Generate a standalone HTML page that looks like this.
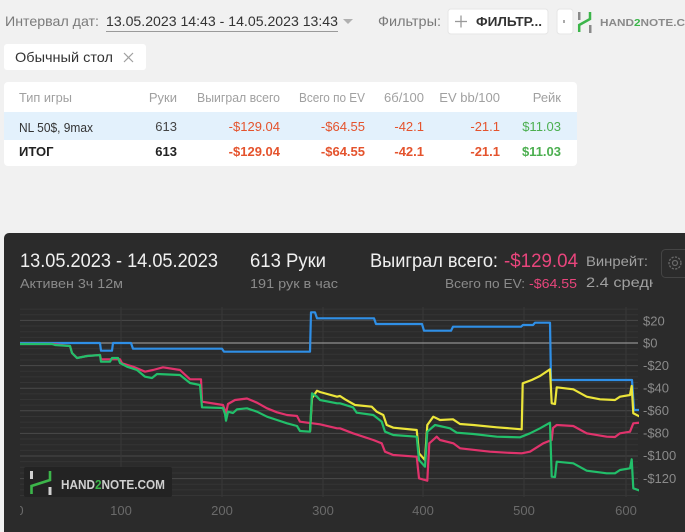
<!DOCTYPE html>
<html><head><meta charset="utf-8"><style>
html,body{margin:0;padding:0;background:#f1f1f1;width:685px;height:532px;overflow:hidden}
svg{display:block}
svg, svg text, svg tspan{font-family:"Liberation Sans","DejaVu Sans","Noto Sans CJK SC",sans-serif !important}
</style></head><body>
<svg width="685" height="532" viewBox="0 0 685 532" xmlns="http://www.w3.org/2000/svg" font-family="Liberation Sans, DejaVu Sans, sans-serif">
<rect x="0" y="0" width="685" height="532" fill="#f1f1f1"/>
<!-- top bar -->
<text x="5" y="26" font-size="14" fill="#7a7a7a" textLength="94" lengthAdjust="spacingAndGlyphs">Интервал дат:</text>
<text x="106" y="26" font-size="14" fill="#333" textLength="232" lengthAdjust="spacingAndGlyphs">13.05.2023 14:43 - 14.05.2023 13:43</text>
<line x1="106" y1="31.5" x2="338" y2="31.5" stroke="#9a9a9a" stroke-width="1"/>
<polygon points="343,19 353,19 348,24" fill="#b0b0b0"/>
<text x="378" y="26" font-size="14" fill="#7a7a7a" textLength="63" lengthAdjust="spacingAndGlyphs">Фильтры:</text>
<rect x="448" y="9" width="100" height="25" rx="3" fill="#fff" stroke="#e6e6e6"/>
<line x1="455" y1="21.5" x2="467" y2="21.5" stroke="#999" stroke-width="1.3"/>
<line x1="461" y1="15.5" x2="461" y2="27.5" stroke="#999" stroke-width="1.3"/>
<text x="476" y="26" font-size="13" font-weight="bold" fill="#333" textLength="66" lengthAdjust="spacingAndGlyphs">ФИЛЬТР...</text>
<rect x="557" y="9" width="16" height="25" rx="3" fill="#fff" stroke="#e6e6e6"/>
<rect x="563" y="20" width="2" height="3" fill="#aaa"/>
<rect x="578" y="12" width="2.5" height="8" fill="#8a8a8a"/>
<path d="M579.2,32 V25 L590,19 V12" fill="none" stroke="#3cb54a" stroke-width="2.5"/>
<rect x="589" y="25" width="2.5" height="8" fill="#8a8a8a"/>
<text x="600" y="26" font-size="10" font-weight="bold" fill="#8a8a8a" textLength="85" lengthAdjust="spacingAndGlyphs">HAND<tspan fill="#3cb54a">2</tspan>NOTE.C</text>
<!-- chip -->
<rect x="4" y="44" width="142" height="26" rx="3" fill="#fff"/>
<text x="15" y="62" font-size="14" fill="#333" textLength="98" lengthAdjust="spacingAndGlyphs">Обычный стол</text>
<line x1="124" y1="53" x2="133" y2="62" stroke="#a0a0a0" stroke-width="1.2"/>
<line x1="133" y1="53" x2="124" y2="62" stroke="#a0a0a0" stroke-width="1.2"/>
<!-- card -->
<rect x="4" y="82" width="573" height="84" rx="4" fill="#fff"/>
<g font-size="13" fill="#a0a0a0">
<text x="19" y="102" textLength="53" lengthAdjust="spacingAndGlyphs">Тип игры</text>
<text x="177" y="102" text-anchor="end">Руки</text>
<text x="280" y="102" text-anchor="end" textLength="83" lengthAdjust="spacingAndGlyphs">Выиграл всего</text>
<text x="365" y="102" text-anchor="end" textLength="66" lengthAdjust="spacingAndGlyphs">Всего по EV</text>
<text x="424" y="102" text-anchor="end">6б/100</text>
<text x="500" y="102" text-anchor="end">EV bb/100</text>
<text x="561" y="102" text-anchor="end">Рейк</text>
</g>
<rect x="4" y="112" width="573" height="28" fill="#e3f1fc"/>
<g font-size="13">
<text x="19" y="132" fill="#333" textLength="74" lengthAdjust="spacingAndGlyphs">NL 50$, 9max</text>
<text x="177" y="131" fill="#444" text-anchor="end">613</text>
<text x="280" y="131" fill="#e4532d" text-anchor="end">-$129.04</text>
<text x="365" y="131" fill="#e4532d" text-anchor="end">-$64.55</text>
<text x="424" y="131" fill="#e4532d" text-anchor="end">-42.1</text>
<text x="500" y="131" fill="#e4532d" text-anchor="end">-21.1</text>
<text x="561" y="131" fill="#4caf50" text-anchor="end">$11.03</text>
</g>
<g font-size="13" font-weight="bold">
<text x="19" y="156" fill="#222">ИТОГ</text>
<text x="177" y="156" fill="#222" text-anchor="end">613</text>
<text x="280" y="156" fill="#e4532d" text-anchor="end">-$129.04</text>
<text x="365" y="156" fill="#e4532d" text-anchor="end">-$64.55</text>
<text x="424" y="156" fill="#e4532d" text-anchor="end">-42.1</text>
<text x="500" y="156" fill="#e4532d" text-anchor="end">-21.1</text>
<text x="561" y="156" fill="#4caf50" text-anchor="end">$11.03</text>
</g>
<!-- chart panel -->
<rect x="4" y="233" width="720" height="320" rx="5" fill="#2b2b2b"/>
<text x="20" y="267" font-size="19" fill="#f0f0f0" textLength="198" lengthAdjust="spacingAndGlyphs">13.05.2023 - 14.05.2023</text>
<text x="20" y="288" font-size="13" fill="#8a8a8a" textLength="103" lengthAdjust="spacingAndGlyphs">Активен 3ч 12м</text>
<text x="250" y="267" font-size="19" fill="#f0f0f0" textLength="76" lengthAdjust="spacingAndGlyphs">613 Руки</text>
<text x="250" y="288" font-size="13" fill="#8a8a8a" textLength="88" lengthAdjust="spacingAndGlyphs">191 рук в час</text>
<text x="370" y="267" font-size="19" fill="#f0f0f0" textLength="128" lengthAdjust="spacingAndGlyphs">Выиграл всего:</text>
<text x="504" y="267" font-size="19" fill="#e8457c" textLength="74" lengthAdjust="spacingAndGlyphs">-$129.04</text>
<text x="586" y="266" font-size="14" fill="#a0a0a0" textLength="62" lengthAdjust="spacingAndGlyphs">Винрейт:</text>
<text x="445" y="288" font-size="13" fill="#8a8a8a" textLength="80" lengthAdjust="spacingAndGlyphs">Всего по EV:</text>
<text x="529" y="288" font-size="13" fill="#e8457c" textLength="48" lengthAdjust="spacingAndGlyphs">-$64.55</text>
<defs>
<clipPath id="c1"><rect x="580" y="270" width="73" height="25"/></clipPath>
<clipPath id="plot"><rect x="20" y="307" width="619" height="191"/></clipPath>
<clipPath id="xl"><rect x="20" y="498" width="660" height="25"/></clipPath>
</defs>
<text x="586" y="287" font-size="14" fill="#a0a0a0" clip-path="url(#c1)" textLength="72" lengthAdjust="spacingAndGlyphs">2.4 средн</text>
<rect x="661.5" y="249.5" width="30" height="28" rx="4" fill="#2b2b2b" stroke="#444"/>
<circle cx="675" cy="263" r="6" fill="none" stroke="#6a6a6a" stroke-width="1.3" stroke-dasharray="2.2 1.3"/>
<circle cx="675" cy="263" r="2.5" fill="none" stroke="#6a6a6a" stroke-width="1.2"/>
<!-- grid -->
<g stroke-width="1">
<line x1="20" x2="638" y1="309.1" y2="309.1" stroke="#353535"/>
<line x1="20" x2="638" y1="314.75" y2="314.75" stroke="#353535"/>
<line x1="20" x2="638" y1="320.4" y2="320.4" stroke="#4a4a4a"/>
<line x1="20" x2="638" y1="326.05" y2="326.05" stroke="#353535"/>
<line x1="20" x2="638" y1="331.7" y2="331.7" stroke="#353535"/>
<line x1="20" x2="638" y1="337.35" y2="337.35" stroke="#353535"/>
<line x1="20" x2="638" y1="348.65" y2="348.65" stroke="#353535"/>
<line x1="20" x2="638" y1="354.3" y2="354.3" stroke="#353535"/>
<line x1="20" x2="638" y1="359.95" y2="359.95" stroke="#353535"/>
<line x1="20" x2="638" y1="365.6" y2="365.6" stroke="#4a4a4a"/>
<line x1="20" x2="638" y1="371.25" y2="371.25" stroke="#353535"/>
<line x1="20" x2="638" y1="376.9" y2="376.9" stroke="#353535"/>
<line x1="20" x2="638" y1="382.55" y2="382.55" stroke="#353535"/>
<line x1="20" x2="638" y1="388.2" y2="388.2" stroke="#4a4a4a"/>
<line x1="20" x2="638" y1="393.85" y2="393.85" stroke="#353535"/>
<line x1="20" x2="638" y1="399.5" y2="399.5" stroke="#353535"/>
<line x1="20" x2="638" y1="405.15" y2="405.15" stroke="#353535"/>
<line x1="20" x2="638" y1="410.8" y2="410.8" stroke="#4a4a4a"/>
<line x1="20" x2="638" y1="416.45" y2="416.45" stroke="#353535"/>
<line x1="20" x2="638" y1="422.1" y2="422.1" stroke="#353535"/>
<line x1="20" x2="638" y1="427.75" y2="427.75" stroke="#353535"/>
<line x1="20" x2="638" y1="433.4" y2="433.4" stroke="#4a4a4a"/>
<line x1="20" x2="638" y1="439.05" y2="439.05" stroke="#353535"/>
<line x1="20" x2="638" y1="444.7" y2="444.7" stroke="#353535"/>
<line x1="20" x2="638" y1="450.35" y2="450.35" stroke="#353535"/>
<line x1="20" x2="638" y1="456" y2="456" stroke="#4a4a4a"/>
<line x1="20" x2="638" y1="461.65" y2="461.65" stroke="#353535"/>
<line x1="20" x2="638" y1="467.3" y2="467.3" stroke="#353535"/>
<line x1="20" x2="638" y1="472.95" y2="472.95" stroke="#353535"/>
<line x1="20" x2="638" y1="478.6" y2="478.6" stroke="#4a4a4a"/>
<line x1="20" x2="638" y1="484.25" y2="484.25" stroke="#353535"/>
<line x1="20" x2="638" y1="489.9" y2="489.9" stroke="#353535"/>
<line x1="20" x2="638" y1="495.55" y2="495.55" stroke="#353535"/>
<line x1="121" x2="121" y1="307" y2="497" stroke="#383838"/>
<line x1="222" x2="222" y1="307" y2="497" stroke="#383838"/>
<line x1="323" x2="323" y1="307" y2="497" stroke="#383838"/>
<line x1="423" x2="423" y1="307" y2="497" stroke="#383838"/>
<line x1="524" x2="524" y1="307" y2="497" stroke="#383838"/>
<line x1="626" x2="626" y1="307" y2="497" stroke="#383838"/>
<line x1="20" x2="638" y1="343" y2="343" stroke="#a8a8a8"/>
</g>
<!-- watermark -->
<rect x="24" y="467" width="148" height="30" rx="2" fill="#232323"/>
<rect x="30" y="471" width="3" height="8" fill="#d0d0d0"/>
<path d="M31.5,494 V486 L50,480 V471" fill="none" stroke="#3cb54a" stroke-width="2.6"/>
<rect x="48.5" y="487" width="3" height="8" fill="#d0d0d0"/>
<text x="61" y="489" font-size="13" font-weight="bold" fill="#cfcfcf" textLength="104" lengthAdjust="spacingAndGlyphs">HAND<tspan fill="#3cb54a">2</tspan>NOTE.COM</text>
<!-- series -->
<g clip-path="url(#plot)" fill="none" stroke-width="2.2" stroke-linejoin="round">
<polyline stroke="#2f8fe6" points="20,343 100,343 101,350.7 112,350.7 113,343 131,343 133,348.7 222,348.7 224,351.7 310,351.7 311,312.3 315,312.3 317,318.3 374,318.3 376,324 422,324 424,330.7 451,330.7 453,326.7 521,326.7 523,325 533,325 535,322.7 550,322.7 551,380 632,380 634,410 640,410"/>
<polyline stroke="#e0336c" points="20,344 52,344 70,346 72,353 77,358 87,356 100,355 101,359.3 120,359.3 122,363.3 133,366.7 145,371.7 153,370 163,367.3 180,370 190,379.3 201,379.3 202,401.7 223,405 226,413.3 228,404 235,400 247,398.5 257,402.7 267,408.3 277,412.3 287,415 297,416 300,421.7 320,424.3 337,428.3 340,428.3 353,433.3 373.3,440 381.7,443.3 385,451.7 393.3,455 416.7,456.7 419,478.3 427.3,480.7 429.3,443.3 436.7,436.7 440,440 453.3,443.3 460,448.3 490,451.7 506.7,452.7 521.7,453.3 530,451.7 543.3,443.3 551.7,440 553,428 556.7,425 573.3,426 586.7,433.3 606.7,436.7 615,437 620,433.3 630,431.7 633.3,423.3 640,422.7"/>
<polyline stroke="#ece53a" points="310,431.7 312,398 317,390.7 320,392 337,396.7 340,396 345,399.3 355,405 371.7,406.7 376.7,411.7 383.3,415 386.7,425 393.3,427.7 416.7,430 419,453.3 425,460 427.3,425 433.3,416.7 440,420 453,419.3 460,424 473.3,425 496.7,427.3 521.7,429.3 522.7,383.3 531.7,380 540,376 550,369.3 551.7,403.3 555,404 556.7,387.3 573.3,389.3 586.7,396.7 600,399.3 615,400 620,396.7 630,395 631.7,386 633.3,413.3 640,416.7"/>
<polyline stroke="#22bf6a" points="20,344 52,344 55,345 70,346 72,353 77,358 87,356 100,355 101,361.7 110,361.7 112,358 118,358 120,363 127,366.7 137,370 145,376.7 152,378 157,374 180,375 190,383 200,385 202,407.3 223,408 225,414 226,420.7 228,411.7 233,413 237,409.3 247,408.3 257,411.7 267,416.7 277,420 287,423.3 297,426 300,431 310,431.7 312,393.3 317,396.7 320,400 337,403.3 340,403.3 353,407.3 356.7,412.7 373.3,415 381.7,421.7 385,431.7 393.3,435 416.7,436.7 419,460 425,466.7 427.3,431.7 435,425 450,428.3 456.7,432.7 473.3,434 496.7,436.7 520,437.3 530,433.3 540,428.3 550,422.7 551.7,476.7 555,477 556.7,461.7 573.3,463.3 586.7,470.7 606.7,473.3 615,473.3 620,470 630,468.3 631.7,459.3 633.3,488.3 640,490.7"/>
</g>
<!-- y labels -->
<g font-size="13" fill="#8a8a8a">
<text x="643" y="325.5">$20</text>
<text x="643" y="347.5">$0</text>
<text x="643" y="370">-$20</text>
<text x="643" y="392.5">-$40</text>
<text x="643" y="415">-$60</text>
<text x="643" y="437.5">-$80</text>
<text x="643" y="460">-$100</text>
<text x="643" y="483">-$120</text>
</g>
<!-- x labels -->
<g font-size="13" fill="#6a6a6a" text-anchor="middle" clip-path="url(#xl)">
<text x="20" y="515">0</text>
<text x="121" y="515">100</text>
<text x="222" y="515">200</text>
<text x="323" y="515">300</text>
<text x="423" y="515">400</text>
<text x="524" y="515">500</text>
<text x="626" y="515">600</text>
</g>
</svg>
</body></html>
